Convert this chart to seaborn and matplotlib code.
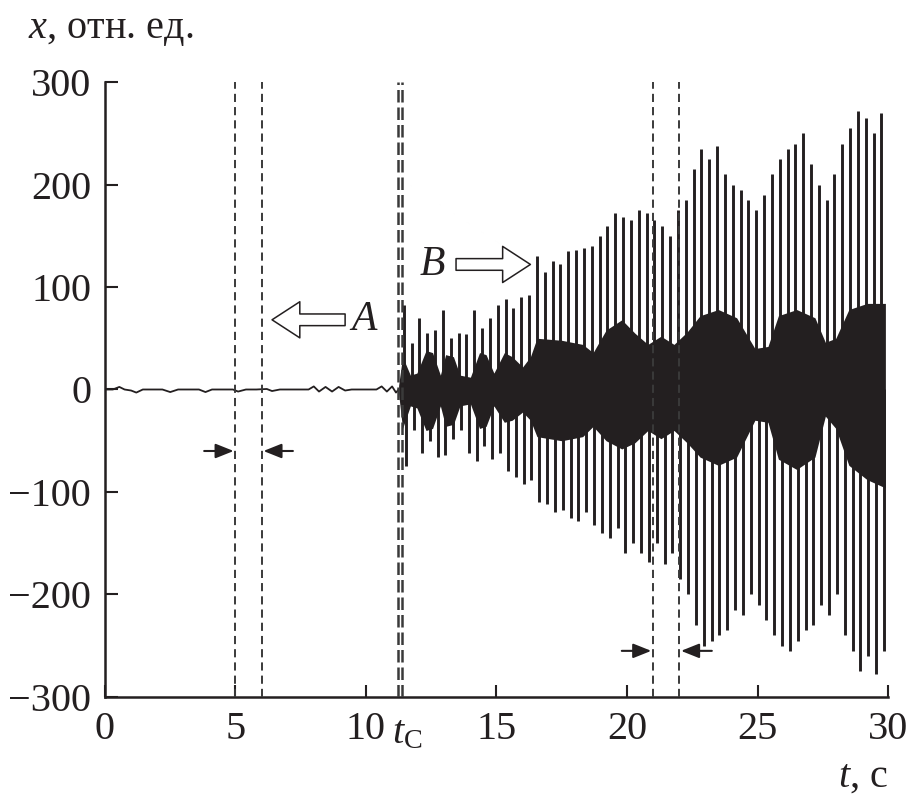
import numpy as np
import pandas as pd
import matplotlib
matplotlib.use("Agg")
import matplotlib.pyplot as plt
import seaborn as sns

# quiet baseline before the critical moment t_C
base_t = [0, 0.3, 0.55, 0.75, 1.0, 1.2, 1.45, 1.8, 2.2, 2.5, 2.8, 3.2, 3.6, 3.85,
          4.1, 4.5, 4.9, 5.1, 5.4, 5.8, 6.2, 6.4, 6.7, 7.1, 7.5, 7.8, 8.0, 8.2,
          8.45, 8.7, 8.95, 9.2, 9.45, 9.8, 10.1, 10.4, 10.6, 10.8, 11.0, 11.15, 11.25]
base_x = [0, 0, 2.5, 0, -1, -3, 0, 0, 0, -2.5, 0, 0, 0, -2.5,
          0, 0, 0, -2, 0, 0, 0.5, -1.5, 0, 0, 0, 0, 3, -2,
          2.5, -2, 2.5, -1, 0, 0, 0, 0, 3, -2, 3, -3, 0]

# envelope of the dense fast oscillation after t_C
band_t = [11.25, 11.4, 11.7, 11.95, 12.3, 12.55, 12.85, 13.05, 13.35, 13.6, 14.0, 14.35,
          14.6, 14.9, 15.3, 15.6, 16.0, 16.3, 16.55, 17.5, 18.3, 18.7, 19.2, 19.8,
          20.3, 20.8, 21.3, 21.8, 22.3, 22.8, 23.5, 24.2, 24.9, 25.4, 25.8, 26.5,
          27.2, 27.6, 28.0, 28.5, 29.2, 29.9]
band_hi = [4, 32, 14, 16, 38, 36, 14, 34, 32, 14, 12, 36,
           34, 16, 36, 32, 22, 32, 50, 48, 44, 36, 58, 68,
           55, 44, 52, 44, 56, 72, 78, 70, 40, 42, 72, 78,
           70, 46, 50, 78, 84, 84]
band_lo = [-4, -38, -16, -18, -40, -38, -16, -36, -34, -16, -14, -38,
           -36, -16, -32, -30, -22, -30, -46, -50, -46, -36, -50, -58,
           -52, -40, -48, -40, -52, -66, -74, -66, -30, -32, -68, -78,
           -66, -26, -38, -74, -88, -96]

# tall spikes: peak maxima and minima
spike_t = [11.45, 11.75, 12.05, 12.35, 12.65, 12.95, 13.25, 13.55, 13.85, 14.15,
           14.45, 14.75, 15.05, 15.35, 15.65, 15.95, 16.25, 16.55, 16.85, 17.15,
           17.45, 17.75, 18.05, 18.35, 18.65, 18.95, 19.25, 19.55, 19.85, 20.15,
           20.45, 20.75, 21.05, 21.35, 21.65, 21.95, 22.25, 22.55, 22.85, 23.15,
           23.45, 23.75, 24.05, 24.35, 24.65, 24.95, 25.25, 25.55, 25.85, 26.15,
           26.45, 26.75, 27.05, 27.35, 27.65, 27.95, 28.25, 28.55, 28.85, 29.15,
           29.45, 29.75]
spike_hi = [82, 45, 70, 55, 58, 78, 50, 55, 54, 78,
            60, 70, 82, 88, 80, 90, 92, 130, 115, 125,
            122, 135, 136, 138, 140, 150, 160, 172, 168, 165,
            175, 172, 165, 160, 150, 175, 185, 215, 235, 225,
            238, 210, 200, 195, 185, 175, 190, 210, 225, 235,
            240, 250, 220, 200, 185, 210, 240, 255, 272, 265,
            250, 270]
spike_lo = [-75, -40, -62, -50, -66, -64, -48, -40, -62, -70,
            -55, -68, -62, -80, -85, -92, -88, -110, -112, -120,
            -118, -125, -128, -120, -132, -140, -145, -135, -160, -150,
            -160, -168, -150, -170, -160, -185, -200, -230, -250, -245,
            -240, -235, -215, -220, -200, -210, -225, -240, -250, -255,
            -245, -235, -230, -210, -220, -200, -240, -255, -275, -260,
            -278, -255]

x_ticks = [0, 5, 10, 15, 20, 25, 30]
y_ticks = [-300, -200, -100, 0, 100, 200, 300]
window_lines = [5, 6, 21, 22]
t_c = 11.3

ink = "#231f20"

sns.set_style("ticks")
plt.rcParams["font.family"] = ["Liberation Serif", "DejaVu Serif"]
plt.rcParams["mathtext.fontset"] = "custom"
plt.rcParams["mathtext.it"] = "Liberation Serif:italic"
plt.rcParams["mathtext.rm"] = "Liberation Serif"

fig = plt.figure(figsize=(9.09, 8.08), dpi=100)
ax = fig.add_axes([0.1155, 0.1374, 0.8614, 0.7611])

base = pd.DataFrame({"t": base_t, "x": base_x})
sns.lineplot(data=base, x="t", y="x", ax=ax, color=ink, lw=1.3,
             estimator=None, sort=False)

ax.fill_between(band_t, band_lo, band_hi, color=ink, lw=0)
ax.vlines(spike_t, 0, spike_hi, color=ink, lw=2.1)
ax.vlines(np.array(spike_t) + 0.09, 0, spike_lo, color=ink, lw=2.1)

for t in window_lines:
    ax.axvline(t, color="#3a3a3a", lw=1.4, ls=(0, (4.2, 2.6)), zorder=3)
for t in (t_c - 0.07, t_c + 0.07):
    ax.axvline(t, color="#3a3a3a", lw=1.8, ls=(0, (5, 2)), zorder=3)

# window markers
arrow_kw = dict(arrowstyle="-|>,head_length=0.55,head_width=0.22", color=ink,
                lw=1.5, shrinkA=0, shrinkB=0, mutation_scale=20)
ax.annotate("", xy=(4.93, -60), xytext=(3.8, -60), arrowprops=arrow_kw)
ax.annotate("", xy=(6.07, -60), xytext=(7.2, -60), arrowprops=arrow_kw)
ax.annotate("", xy=(20.93, -255), xytext=(19.8, -255), arrowprops=arrow_kw)
ax.annotate("", xy=(22.07, -255), xytext=(23.25, -255), arrowprops=arrow_kw)

hollow_kw = dict(arrowstyle="simple,head_length=1.0,head_width=1.3,tail_width=0.42",
                 fc="white", ec=ink, lw=1.1, shrinkA=0, shrinkB=0, mutation_scale=20)
ax.annotate("", xy=(6.4, 68), xytext=(9.2, 68), arrowprops=hollow_kw)
ax.annotate("", xy=(16.3, 122), xytext=(13.45, 122), arrowprops=hollow_kw)
ax.text(9.92, 68, "A", fontsize=30, fontstyle="italic", ha="center", va="center",
        color=ink)
ax.text(12.55, 122, "B", fontsize=30, fontstyle="italic", ha="center", va="center",
        color=ink)

ax.set_xlim(0, 30)
ax.set_ylim(-300, 300)
ax.set_xticks(x_ticks)
ax.set_yticks(y_ticks)
ax.tick_params(direction="in", length=9, width=1.5, labelsize=29, pad=10,
               colors=ink)
for side in ("top", "right"):
    ax.spines[side].set_visible(False)
for side in ("left", "bottom"):
    ax.spines[side].set_linewidth(1.8)
    ax.spines[side].set_color(ink)
ax.set_xlabel("")
ax.set_ylabel("")

ax.text(11.0, -318, r"$t_{\mathrm{C}}$", fontsize=29, ha="left", va="top",
        color=ink)

fig.text(0.031, 0.963, "$x$, отн. ед.", fontsize=29, ha="left", va="center",
         color=ink)
fig.text(0.977, 0.038, "$t$, с", fontsize=29, ha="right", va="center", color=ink)

fig.savefig("out.png", dpi=100)
